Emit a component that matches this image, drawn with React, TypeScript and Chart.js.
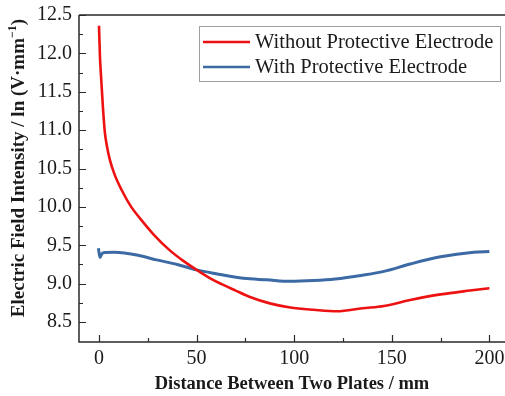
import React, { useEffect, useRef } from 'react';
import { Chart, registerables } from 'chart.js';

Chart.register(...registerables);

const redX = [0, 0.5, 1, 2, 3, 4, 5.5, 8, 11.6, 16, 21, 28, 36, 43, 50, 57, 64, 70, 77, 88, 98, 110, 122, 135, 146, 160, 175, 190, 200];
const redY = [12.36, 11.95, 11.72, 11.3, 10.97, 10.8, 10.62, 10.42, 10.22, 10.02, 9.85, 9.64, 9.44, 9.3, 9.18, 9.07, 8.98, 8.91, 8.83, 8.74, 8.69, 8.66, 8.64, 8.68, 8.71, 8.79, 8.86, 8.91, 8.94];
const blueX = [-0.3, 0.5, 1.5, 3, 8, 13, 20, 29.5, 40, 50, 60, 74, 86, 98, 110, 121, 135, 146, 160, 175, 192, 200];
const blueY = [9.46, 9.34, 9.39, 9.405, 9.41, 9.4, 9.37, 9.31, 9.25, 9.18, 9.13, 9.07, 9.05, 9.03, 9.04, 9.06, 9.11, 9.16, 9.26, 9.35, 9.41, 9.42];

const seriesNames = ['Without Protective Electrode', 'With Protective Electrode'];
const seriesColors = ['#ee1111', '#3c6aa5'];

const xMajorTicks = [0, 50, 100, 150, 200];
const xMinorTicks = [25, 75, 125, 175];
const yMajorTicks = [8.5, 9.0, 9.5, 10.0, 10.5, 11.0, 11.5, 12.0, 12.5];
const yMinorTicks = [8.75, 9.25, 9.75, 10.25, 10.75, 11.25, 11.75, 12.25];

const xTitle = 'Distance Between Two Plates / mm';
const yTitleMain = 'Electric Field Intensity / ln (V·mm';
const yTitleSup = '−1';
const yTitleEnd = ')';

const FONT = "'Liberation Serif', 'Times New Roman', serif";
const TEXT = '#1a1a1a';
const AXIS = '#2a2a2a';

const decorPlugin = {
  id: 'decor',
  afterDraw(chart: any) {
    const ctx = chart.ctx;
    const xs = chart.scales.x;
    const ys = chart.scales.y;
    const ca = chart.chartArea;
    ctx.save();
    ctx.strokeStyle = AXIS;
    ctx.lineWidth = 1.5;
    ctx.beginPath();
    ctx.moveTo(ca.left, ca.top);
    ctx.lineTo(ca.left, ca.bottom);
    ctx.lineTo(ca.right, ca.bottom);
    ctx.moveTo(ca.left, ca.top);
    ctx.lineTo(ca.right, ca.top);
    ctx.stroke();
    ctx.lineWidth = 1.2;
    ctx.beginPath();
    xMajorTicks.forEach((v) => {
      const p = Math.round(xs.getPixelForValue(v)) + 0.5;
      ctx.moveTo(p, ca.bottom);
      ctx.lineTo(p, ca.bottom - 7);
    });
    xMinorTicks.forEach((v) => {
      const p = Math.round(xs.getPixelForValue(v)) + 0.5;
      ctx.moveTo(p, ca.bottom);
      ctx.lineTo(p, ca.bottom - 4);
    });
    yMajorTicks.forEach((v) => {
      const p = Math.round(ys.getPixelForValue(v)) + 0.5;
      ctx.moveTo(ca.left, p);
      ctx.lineTo(ca.left + 7, p);
    });
    yMinorTicks.forEach((v) => {
      const p = Math.round(ys.getPixelForValue(v)) + 0.5;
      ctx.moveTo(ca.left, p);
      ctx.lineTo(ca.left + 4, p);
    });
    ctx.stroke();

    // legend
    const bx = 199.5, by = 26.5, bw = 301, bh = 55;
    ctx.fillStyle = '#ffffff';
    ctx.fillRect(bx, by, bw, bh);
    ctx.strokeStyle = '#a0a0a0';
    ctx.lineWidth = 1;
    ctx.strokeRect(bx, by, bw, bh);
    const rows = [42, 67];
    ctx.font = `20.5px ${FONT}`;
    ctx.textBaseline = 'middle';
    ctx.textAlign = 'left';
    seriesNames.forEach((name, i) => {
      ctx.strokeStyle = seriesColors[i];
      ctx.lineWidth = 2.6;
      ctx.beginPath();
      ctx.moveTo(203, rows[i]);
      ctx.lineTo(250, rows[i]);
      ctx.stroke();
      ctx.fillStyle = TEXT;
      ctx.fillText(name, 255, rows[i] + 1);
    });

    // y title with superscript
    const mainFont = `bold 19px ${FONT}`;
    const supFont = `bold 12px ${FONT}`;
    ctx.font = mainFont;
    const w1 = ctx.measureText(yTitleMain).width;
    const w3 = ctx.measureText(yTitleEnd).width;
    ctx.font = supFont;
    const w2 = ctx.measureText(yTitleSup).width;
    const total = w1 + w2 + w3;
    ctx.translate(18, 168);
    ctx.rotate(-Math.PI / 2);
    ctx.fillStyle = TEXT;
    ctx.textBaseline = 'alphabetic';
    const x0 = -total / 2;
    ctx.font = mainFont;
    ctx.fillText(yTitleMain, x0, 6);
    ctx.font = supFont;
    ctx.fillText(yTitleSup, x0 + w1, -2);
    ctx.font = mainFont;
    ctx.fillText(yTitleEnd, x0 + w1 + w2, 6);
    ctx.restore();
  },
};

export default function App() {
  const ref = useRef<HTMLCanvasElement>(null);
  useEffect(() => {
    if (!ref.current) return;
    const chart = new Chart(ref.current, {
      type: 'line',
      data: {
        datasets: [
          {
            label: seriesNames[0],
            data: redX.map((x, i) => ({ x, y: redY[i] })),
            borderColor: seriesColors[0],
            borderWidth: 2.6,
            pointRadius: 0,
            cubicInterpolationMode: 'monotone',
          },
          {
            label: seriesNames[1],
            data: blueX.map((x, i) => ({ x, y: blueY[i] })),
            borderColor: seriesColors[1],
            borderWidth: 3,
            pointRadius: 0,
            cubicInterpolationMode: 'monotone',
          },
        ],
      },
      plugins: [decorPlugin],
      options: {
        animation: false,
        responsive: false,
        layout: { padding: { top: 15, right: 0, left: 0, bottom: 0 } },
        plugins: { legend: { display: false }, tooltip: { enabled: false } },
        scales: {
          x: {
            type: 'linear',
            min: -10.25,
            max: 208,
            afterBuildTicks: (s: any) => {
              s.ticks = xMajorTicks.map((v) => ({ value: v }));
            },
            afterFit: (s: any) => {
              s.height = 54;
              s.paddingLeft = 0;
              s.paddingRight = 0;
            },
            grid: { display: false, drawTicks: false },
            border: { display: false },
            ticks: {
              font: { family: FONT, size: 20 },
              color: TEXT,
              padding: 5,
              maxRotation: 0,
              autoSkip: false,
            },
            title: {
              display: true,
              text: xTitle,
              font: { family: FONT, size: 18.5, weight: 'bold' },
              color: TEXT,
              padding: { top: 0, bottom: 1 },
            },
          },
          y: {
            type: 'linear',
            min: 8.24,
            max: 12.5,
            afterBuildTicks: (s: any) => {
              s.ticks = yMajorTicks.map((v) => ({ value: v }));
            },
            afterFit: (s: any) => {
              s.width = 79;
              s.paddingTop = 0;
              s.paddingBottom = 0;
            },
            grid: { display: false, drawTicks: false },
            border: { display: false },
            ticks: {
              font: { family: FONT, size: 20 },
              color: TEXT,
              padding: 7,
              autoSkip: false,
              callback: (v: any) => Number(v).toFixed(1),
            },
          },
        },
      },
    } as any);
    return () => chart.destroy();
  }, []);
  return (
    <div style={{ position: 'fixed', left: 0, top: 0, width: 505, height: 396, background: '#fff' }}>
      <canvas ref={ref} width={505} height={396} />
    </div>
  );
}
